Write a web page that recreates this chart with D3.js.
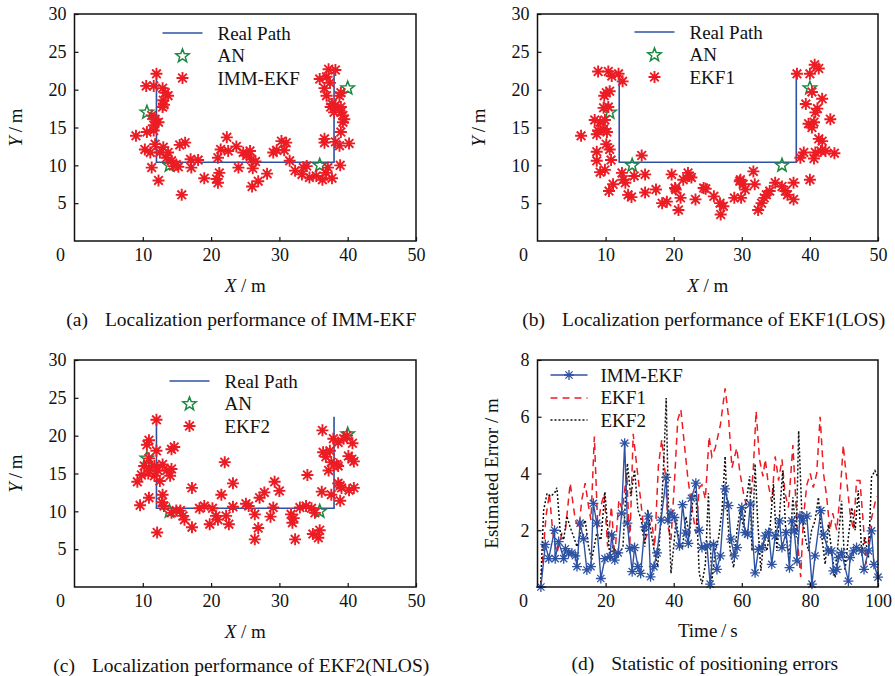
<!DOCTYPE html>
<html>
<head>
<meta charset="utf-8">
<script src="https://cdn.jsdelivr.net/npm/d3@7"></script>
<style>
    body { margin: 0; background: #fff; }
    svg text { font-family: "Liberation Serif", "Times New Roman", serif; fill: #111; }
</style>
</head>
<body>
<div id="chart"></div>
<script>
// ---- data ----
var realPath = [[12, 22.3], [12, 10.4], [38, 10.4], [38, 22.5]];
var anchorNodes = [[10.6, 17], [13.9, 10], [35.9, 10], [40, 20.2]];

var immEkfPts = [[12.0,22.1],[10.5,20.5],[11.6,20.5],[12.9,20.2],[13.3,19.6],[13.7,19.2],[13.0,18.6],[13.1,18.0],
    [12.9,17.7],[11.3,16.6],[11.8,16.1],[12.3,15.7],[11.6,15.3],[10.6,14.4],[11.6,14.6],[9.0,13.9],[10.3,12.1],
    [11.8,12.8],[11.1,11.7],[13.0,12.4],[12.5,11.7],[13.7,11.7],[13.5,11.0],[11.3,9.7],[12.3,8.0],[14.2,10.6],
    [14.9,10.1],[14.5,9.9],[15.2,9.8],[15.4,12.7],[16.2,13.0],[17.0,10.8],[17.1,9.7],[18.1,10.7],[15.7,6.1],
    [19.0,8.3],[21.0,11.0],[21.4,12.1],[21.2,9.0],[21.0,7.7],[20.8,8.2],[22.3,13.7],[22.5,11.9],[23.7,12.5],
    [24.0,9.7],[24.7,11.7],[25.7,11.9],[25.9,10.8],[26.1,9.6],[26.0,7.2],[26.9,7.9],[28.2,8.9],[29.1,11.7],
    [29.6,12.0],[30.3,13.2],[31.0,13.0],[30.7,12.0],[31.5,10.6],[32.3,9.3],[33.3,8.8],[33.5,9.7],[34.0,9.9],
    [34.4,8.4],[35.4,8.6],[36.3,8.1],[36.8,9.0],[37.1,9.7],[37.7,8.3],[38.9,10.0],[36.6,13.5],[36.6,13.0],
    [38.2,13.1],[38.8,12.6],[40.2,12.9],[39.0,14.4],[39.3,15.7],[39.5,16.1],[39.0,17.0],[38.0,17.0],[37.5,17.7],
    [37.7,18.1],[38.2,17.9],[36.9,19.2],[36.6,20.2],[38.8,19.2],[39.0,19.6],[35.9,21.4],[36.9,21.7],[37.4,20.9],
    [37.2,22.7],[38.2,22.6],[39.0,17.7],[39.3,16.6],[25.2,11.3],[26.5,10.5]];

var ekf1Pts = [[8.9,22.4],[10.4,22.4],[10.9,21.8],[11.9,22.1],[12.5,21.1],[10.1,19.6],[9.8,19.2],[10.6,19.8],
    [9.7,17.6],[10.4,17.7],[8.4,16.0],[9.2,15.7],[9.9,16.0],[8.9,14.6],[9.7,14.8],[8.7,14.1],[10.2,14.4],[6.4,13.9],
    [10.1,12.8],[10.6,12.1],[8.7,11.8],[8.7,10.6],[10.8,10.7],[9.2,9.1],[9.9,9.4],[12.4,9.0],[11.1,7.5],[10.5,6.6],
    [12.6,8.1],[12.9,7.7],[13.3,6.1],[13.8,5.8],[14.2,8.6],[15.3,11.3],[15.8,8.8],[15.8,6.4],[17.4,6.8],[18.3,5.0],
    [19.0,5.2],[19.7,8.8],[20.2,7.0],[20.7,4.1],[21.0,5.7],[21.4,8.1],[22.1,9.0],[22.6,8.4],[23.2,5.5],[24.4,7.0],
    [25.9,5.9],[26.8,5.0],[26.9,3.5],[27.3,4.6],[28.9,5.7],[29.8,8.1],[29.9,5.7],[30.2,7.5],[30.5,6.8],[31.7,9.2],
    [31.9,7.5],[32.4,4.1],[32.9,5.0],[33.3,5.7],[33.6,6.1],[34.1,6.6],[34.9,7.7],[36.4,6.6],[36.7,6.1],[37.6,7.7],
    [37.6,5.5],[35.9,7.2],[38.1,22.1],[40.0,22.1],[40.7,23.3],[41.3,22.8],[40.3,19.7],[39.4,18.1],[41.8,18.8],
    [41.1,17.5],[40.8,17.0],[39.8,15.5],[40.6,15.7],[40.3,15.0],[43.0,16.1],[41.3,13.5],[41.8,13.2],[39.1,11.7],
    [38.6,11.0],[40.8,11.7],[41.6,11.9],[42.3,11.9],[43.6,11.6],[40.6,10.9],[40.0,8.1],[20.3,6.8],[22.3,8.6],
    [29.7,7.9],[24.7,6.9]];

var ekf2Pts = [[12.0,22.1],[10.9,19.4],[10.6,18.8],[12.0,18.0],[14.2,18.2],[14.6,18.5],[10.9,17.0],[10.2,16.0],
    [10.9,15.8],[11.7,16.0],[12.9,16.2],[12.2,15.4],[13.5,15.4],[14.2,15.6],[9.8,14.8],[10.8,15.0],[11.7,14.7],
    [12.5,14.0],[14.0,14.7],[9.2,13.9],[12.9,12.2],[10.9,11.8],[9.6,10.8],[12.8,11.2],[13.1,10.7],[14.2,9.8],
    [14.9,10.1],[15.5,10.1],[15.9,9.4],[16.1,8.9],[12.1,7.2],[17.2,13.1],[17.2,7.9],[18.3,10.4],[19.0,10.7],
    [19.8,8.3],[20.2,10.4],[20.7,9.4],[21.0,8.9],[21.5,12.2],[22.0,16.5],[22.2,9.4],[22.6,8.3],[23.2,13.7],
    [23.2,10.6],[25.1,11.0],[25.5,10.7],[26.4,9.6],[26.4,6.3],[26.9,7.8],[27.1,11.8],[27.8,12.5],[28.7,9.3],
    [29.1,10.5],[29.3,13.9],[30.0,12.7],[31.7,9.6],[31.9,8.5],[32.1,9.1],[32.3,6.3],[33.0,10.5],[33.9,10.7],
    [34.1,14.8],[34.7,10.4],[34.9,7.0],[35.2,9.8],[35.7,6.5],[35.9,7.5],[36.2,12.6],[36.3,20.7],[36.4,17.8],
    [36.8,17.2],[37.2,15.4],[37.4,18.0],[37.6,16.5],[37.6,12.2],[37.9,19.6],[38.4,16.2],[38.6,19.1],[38.6,13.7],
    [38.9,13.4],[39.1,13.1],[38.9,11.4],[39.4,19.6],[39.9,20.0],[40.1,17.3],[40.6,16.9],[40.7,19.0],[40.9,16.6],
    [40.2,12.8],[40.9,13.1],[38.6,16.0]];

var xTicks = [10, 20, 30, 40, 50];
var yTicks = [5, 10, 15, 20, 25, 30];
var timeTicks = [20, 40, 60, 80, 100];
var errTicks = [2, 4, 6, 8];

// [time, error]
var immErr = [[1,0],[2.3,1.5],[3.3,1.0],[5,2.0],[5.2,1.0],[6.2,1.6],[7.7,1.0],[8.2,1.35],[9.1,1.2],[10.1,1.2],
    [11.1,1.1],[11.6,0.72],[12.5,2.25],[13.5,1.7],[14.5,0.6],[15.7,0.72],[16.4,2.95],[17.4,2.25],[18.6,0.3],
    [19.8,1.0],[21.3,1.07],[21.8,1.84],[22.7,0.95],[23.7,1.2],[24.7,2.6],[25.6,5.07],[26.4,2.25],[27.1,1.36],
    [27.8,0.54],[28.5,1.39],[29.5,0.72],[30.3,0.48],[31.5,2.12],[32.5,2.5],[33.2,0.36],[34.2,0.72],[35.1,1.2],
    [36.3,2.36],[37.8,3.86],[38.3,2.36],[39.2,2.6],[40.2,2.45],[41.7,1.45],[42.6,2.9],[43.6,1.9],[44.3,1.54],
    [45.2,3.13],[46.5,3.66],[47.5,2.0],[48.3,1.39],[49.8,1.45],[50.7,0.1],[51.7,1.5],[52.7,0.62],[53.7,1.1],
    [55.1,3.46],[56.1,2.87],[56.8,1.69],[57.8,1.1],[58.6,1.39],[60,2.8],[61,1.92],[61.7,1.86],[62.5,2.92],
    [63.9,0.5],[64.9,1.33],[65.9,1.39],[66.9,1.8],[67.9,1.92],[68.8,0.8],[69.8,1.8],[71.1,2.33],[71.8,1.39],
    [73,1.92],[74,0.68],[74.7,2.33],[75.4,1.98],[76.2,0.92],[77.1,2.5],[77.9,2.33],[79.1,2.5],[80.6,0.1],
    [81.5,1.1],[83.2,2.69],[84,1.86],[85.4,1.27],[86.4,1.27],[86.9,0.57],[87.9,0.62],[88.4,1.04],[89.3,1.21],
    [91.3,0.21],[91.8,1.04],[92.8,1.27],[93.7,1.39],[95.2,1.27],[95.9,0.62],[97.2,1.27],[98.1,1.98],[98.8,0.8],
    [100,0.35]];

var ekf1Err = [[0.9,0],[2.5,2.5],[3.5,3.3],[4.5,1.9],[5.7,1.2],[7.2,1.9],[8.2,2.0],[9.6,3.66],[11.1,2.36],
    [12.2,2.1],[13,3.07],[14,3.66],[15,2.84],[15.7,2.36],[16.7,5.3],[17.7,2.1],[18.6,2.84],[19.6,3.3],[20.6,1.42],
    [21.7,2.84],[22.7,1.07],[23.9,3.07],[24.9,2.72],[26.2,4.0],[27.1,1.42],[28.1,5.4],[29.3,4.1],[30.3,3.07],
    [31.5,1.66],[32.4,1.9],[33.4,2.5],[34.4,1.42],[35.5,4.25],[36.5,5.2],[37.5,4.0],[38.4,2.1],[39.2,1.66],
    [40.2,3.66],[41.2,5.9],[42.1,6.25],[43.1,5.07],[44.1,3.9],[45,3.07],[46.5,1.9],[47.5,3.5],[48.3,3.6],
    [49.3,3.1],[50.4,5.3],[51.2,4.6],[52.2,4.9],[53.7,5.7],[55.1,7.0],[56.1,6.0],[57.1,4.2],[58.5,4.9],[59.5,4.0],
    [60.5,3.3],[61.5,2.8],[62.5,2.9],[63.4,4.2],[64.2,6.2],[65.2,4.5],[66.2,3.9],[66.9,4.5],[67.8,3.6],[68.8,3.0],
    [69.8,4.6],[70.8,3.75],[71.8,4.5],[72.7,3.3],[73.7,2.8],[75,5.0],[75.7,3.4],[76.6,1.3],[77.3,0.35],[78.1,2.45],
    [79.1,3.6],[80.1,4.0],[81,3.5],[82,4.0],[83,6.0],[84,4.0],[84.9,3.2],[85.9,2.0],[86.7,2.6],[87.9,2.0],
    [88.9,3.3],[89.8,5.0],[90.8,3.75],[91.8,2.6],[92.8,2.0],[93.7,3.75],[94.7,3.75],[95.7,2.2],[96.5,0.8],
    [97.7,2.2],[98.8,2.8],[99.6,3.2]];

var ekf2Err = [[0.9,0],[1.8,2.7],[2.8,3.3],[3.8,3.2],[5,3.3],[5.7,3.5],[6.7,1.9],[7.7,1.66],[8.6,2.5],[9.6,2.1],
    [10.6,1.78],[11.6,1.42],[13,2.1],[14,2.36],[15,1.42],[15.9,0.95],[17.4,1.9],[18.6,1.66],[19.8,3.36],
    [21.3,0.95],[22.2,1.42],[23.7,1.07],[25.1,1.42],[26.4,4.36],[27.4,3.2],[28.5,4.13],[29.5,2.72],[30.5,2.36],
    [31.5,1.42],[32.4,2.72],[33.4,1.9],[34.4,1.19],[35.3,0.72],[36.3,2.48],[37.1,4.48],[37.8,6.66],[38.4,3.07],
    [39.2,0.48],[40,1.42],[40.7,2.36],[41.7,1.54],[42.6,1.42],[43.6,2.48],[44.6,1.78],[45.5,2.95],[46.5,3.42],
    [47.5,0.48],[48.3,0.1],[49.3,0.8],[50.2,3.3],[51.2,0.2],[52.2,1.27],[53.2,1.75],[54.2,2.7],[55.1,4.6],
    [55.8,2.45],[56.6,1.27],[57.6,0.68],[58.6,2.0],[59.5,2.7],[60.5,2.1],[61.5,3.16],[62.3,3.9],[63,1.27],
    [63.9,4.34],[64.6,2.45],[65.6,0.57],[66.4,1.63],[67.4,1.27],[68.3,2.1],[69.3,3.63],[70.3,1.27],[71.3,2.9],
    [72,4.1],[73,1.75],[74,1.04],[75,3.16],[76,1.75],[76.7,5.5],[77.6,2.7],[78.6,1.75],[79.6,1.27],[80.5,2.0],
    [81.5,2.33],[82.5,3.16],[83.5,1.75],[84.5,0.8],[85.4,2.2],[86.4,1.27],[87.4,0.33],[88.4,1.75],[89.3,3.04],
    [90.3,0.57],[91.3,1.75],[92.3,2.8],[93.3,2.0],[94.2,3.4],[95.2,1.27],[96.2,1.75],[97.2,1.04],[98.1,3.87],
    [99.1,4.1],[100,3.87]];

function init() {

    var width = 895;
    var height = 676;

    var red = "#ec1c24";
    var blue = "#2d52a3";
    var green = "#1b8a40";

    var svg = d3.select("#chart")
        .append("svg")
        .attr("width", width)
        .attr("height", height);

    // asterisk marker ( + and x overlaid )
    function asterisk(r) {
        var d = r * 0.72;
        return "M" + (-r) + ",0L" + r + ",0M0," + (-r) + "L0," + r +
            "M" + (-d) + "," + (-d) + "L" + d + "," + d + "M" + (-d) + "," + d + "L" + d + "," + (-d);
    }

    // five pointed outline star
    function star(R) {
        var r = R * 0.42, p = [];
        for (var i = 0; i < 10; i++) {
            var a = -Math.PI / 2 + i * Math.PI / 5;
            var rr = i % 2 ? r : R;
            p.push([rr * Math.cos(a), rr * Math.sin(a)]);
        }
        return "M" + p.join("L") + "Z";
    }

    // frame, ticks, labels shared by every panel
    function drawFrame(g, x, y, xt, yt, box) {
        var xAxis = g.append("g")
            .attr("transform", "translate(0," + box.bottom + ")")
            .call(d3.axisBottom(x).tickValues(xt).tickSizeInner(-4).tickSizeOuter(0).tickPadding(7));
        var yAxis = g.append("g")
            .attr("transform", "translate(" + box.left + ",0)")
            .call(d3.axisLeft(y).tickValues(yt).tickSizeInner(-4).tickSizeOuter(0).tickPadding(8));
        [xAxis, yAxis].forEach(function (a) {
            a.attr("font-family", null).attr("font-size", 18);
            a.select(".domain").remove();
            a.selectAll(".tick line").attr("stroke", "#111").attr("stroke-width", 1.2);
            a.selectAll(".tick text").attr("fill", "#111");
        });

        // shared origin label in the corner
        g.append("text")
            .attr("x", box.left - 14)
            .attr("y", box.bottom + 20)
            .attr("text-anchor", "middle")
            .attr("font-size", 18)
            .text("0");

        g.append("rect")
            .attr("x", box.left)
            .attr("y", box.top)
            .attr("width", box.right - box.left)
            .attr("height", box.bottom - box.top)
            .attr("fill", "none")
            .attr("stroke", "#111")
            .attr("stroke-width", 1.5);
    }

    function caption(g, cx, cy, tag, rest) {
        var t = g.append("text")
            .attr("x", cx)
            .attr("y", cy)
            .attr("text-anchor", "middle")
            .attr("font-size", 19.5);
        t.append("tspan").text(tag);
        t.append("tspan").attr("dx", 17).text(rest);
    }

    // ---- scatter panels (a) (b) (c) ----
    var panels = [
        { left: 74.5, top: 14, right: 416, bottom: 241, pts: immEkfPts, name: "IMM-EKF", legX: 88, legY: 19,
          cap: "Localization performance of IMM-EKF", tag: "(a)" },
        { left: 537.5, top: 14, right: 878, bottom: 241, pts: ekf1Pts, name: "EKF1", legX: 97, legY: 18,
          cap: "Localization performance of EKF1(LOS)", tag: "(b)" },
        { left: 74.5, top: 360, right: 416, bottom: 587, pts: ekf2Pts, name: "EKF2", legX: 95, legY: 21,
          cap: "Localization performance of EKF2(NLOS)", tag: "(c)" }
    ];

    panels.forEach(function (p) {
        var g = svg.append("g");

        var x = d3.scaleLinear().domain([0, 50]).range([p.left, p.right]);
        var y = d3.scaleLinear().domain([0, 30]).range([p.bottom, p.top]);

        var line = d3.line()
            .x(function (d) { return x(d[0]); })
            .y(function (d) { return y(d[1]); });

        g.append("path")
            .datum(realPath)
            .attr("d", line)
            .attr("fill", "none")
            .attr("stroke", blue)
            .attr("stroke-width", 1.6);

        g.selectAll(".an")
            .data(anchorNodes)
            .enter()
            .append("path")
            .attr("class", "an")
            .attr("transform", function (d) { return "translate(" + x(d[0]) + "," + y(d[1]) + ")"; })
            .attr("d", star(7))
            .attr("fill", "none")
            .attr("stroke", green)
            .attr("stroke-width", 1.5);

        g.selectAll(".est")
            .data(p.pts)
            .enter()
            .append("path")
            .attr("class", "est")
            .attr("transform", function (d) { return "translate(" + x(d[0]) + "," + y(d[1]) + ")"; })
            .attr("d", asterisk(6))
            .attr("stroke", red)
            .attr("stroke-width", 1.9);

        drawFrame(g, x, y, xTicks, yTicks, p);

        // legend
        var lx = p.left + p.legX, ly = p.top + p.legY;
        g.append("line")
            .attr("x1", lx).attr("x2", lx + 40)
            .attr("y1", ly).attr("y2", ly)
            .attr("stroke", blue).attr("stroke-width", 1.6);
        g.append("path")
            .attr("transform", "translate(" + (lx + 20) + "," + (ly + 23) + ")")
            .attr("d", star(7))
            .attr("fill", "none").attr("stroke", green).attr("stroke-width", 1.5);
        g.append("path")
            .attr("transform", "translate(" + (lx + 20) + "," + (ly + 45) + ")")
            .attr("d", asterisk(6))
            .attr("stroke", red).attr("stroke-width", 1.9);
        ["Real Path", "AN", p.name].forEach(function (s, i) {
            g.append("text")
                .attr("x", lx + 55)
                .attr("y", ly + i * 22.5 + 6.5)
                .attr("font-size", 19)
                .text(s);
        });

        // axis titles
        var xl = g.append("text")
            .attr("x", (p.left + p.right) / 2)
            .attr("y", p.bottom + 51)
            .attr("text-anchor", "middle")
            .attr("font-size", 19);
        xl.append("tspan").attr("font-style", "italic").text("X");
        xl.append("tspan").text(" / m");

        var yl = g.append("text")
            .attr("transform", "translate(" + (p.left - 53) + "," + ((p.top + p.bottom) / 2) + ") rotate(-90)")
            .attr("text-anchor", "middle")
            .attr("font-size", 19);
        yl.append("tspan").attr("font-style", "italic").text("Y");
        yl.append("tspan").text("\u2009/\u2009m");

        caption(g, (p.left + p.right) / 2 - 4, p.bottom + 85, p.tag, p.cap);
    });

    // ---- error panel (d) ----
    var box = { left: 537.5, top: 360, right: 878, bottom: 587 };
    var g = svg.append("g");

    var tx = d3.scaleLinear().domain([0, 100]).range([box.left, box.right]);
    var ey = d3.scaleLinear().domain([0, 8]).range([box.bottom, box.top]);

    var eline = d3.line()
        .x(function (d) { return tx(d[0]); })
        .y(function (d) { return ey(d[1]); });

    g.append("path")
        .datum(ekf1Err)
        .attr("d", eline)
        .attr("fill", "none")
        .attr("stroke", red)
        .attr("stroke-width", 1.5)
        .attr("stroke-dasharray", "7,5");

    g.append("path")
        .datum(ekf2Err)
        .attr("d", eline)
        .attr("fill", "none")
        .attr("stroke", "#111")
        .attr("stroke-width", 1.5)
        .attr("stroke-dasharray", "2,2");

    g.append("path")
        .datum(immErr)
        .attr("d", eline)
        .attr("fill", "none")
        .attr("stroke", blue)
        .attr("stroke-width", 1.4);

    g.selectAll(".imm")
        .data(immErr)
        .enter()
        .append("path")
        .attr("class", "imm")
        .attr("transform", function (d) { return "translate(" + tx(d[0]) + "," + ey(d[1]) + ")"; })
        .attr("d", asterisk(5))
        .attr("stroke", blue)
        .attr("stroke-width", 1.3);

    drawFrame(g, tx, ey, timeTicks, errTicks, box);

    // legend
    var lx = box.left + 13, ly = box.top + 15;
    g.append("line")
        .attr("x1", lx).attr("x2", lx + 37).attr("y1", ly).attr("y2", ly)
        .attr("stroke", blue).attr("stroke-width", 1.4);
    g.append("path")
        .attr("transform", "translate(" + (lx + 18.5) + "," + ly + ")")
        .attr("d", asterisk(5))
        .attr("stroke", blue).attr("stroke-width", 1.3);
    g.append("line")
        .attr("x1", lx).attr("x2", lx + 37).attr("y1", ly + 23).attr("y2", ly + 23)
        .attr("stroke", red).attr("stroke-width", 1.5).attr("stroke-dasharray", "7,5");
    g.append("line")
        .attr("x1", lx).attr("x2", lx + 37).attr("y1", ly + 45).attr("y2", ly + 45)
        .attr("stroke", "#111").attr("stroke-width", 1.5).attr("stroke-dasharray", "2,2");
    ["IMM-EKF", "EKF1", "EKF2"].forEach(function (s, i) {
        g.append("text")
            .attr("x", lx + 50)
            .attr("y", ly + i * 22.5 + 6.5)
            .attr("font-size", 19)
            .text(s);
    });

    g.append("text")
        .attr("x", (box.left + box.right) / 2)
        .attr("y", box.bottom + 50)
        .attr("text-anchor", "middle")
        .attr("font-size", 19)
        .text("Time\u2009/\u2009s");

    g.append("text")
        .attr("transform", "translate(" + (box.left - 40) + "," + ((box.top + box.bottom) / 2) + ") rotate(-90)")
        .attr("text-anchor", "middle")
        .attr("font-size", 19)
        .text("Estimated Error / m");

    caption(g, (box.left + box.right) / 2 - 3, box.bottom + 83, "(d)", "Statistic of positioning errors");
}

window.onload = init;
</script>
</body>
</html>
